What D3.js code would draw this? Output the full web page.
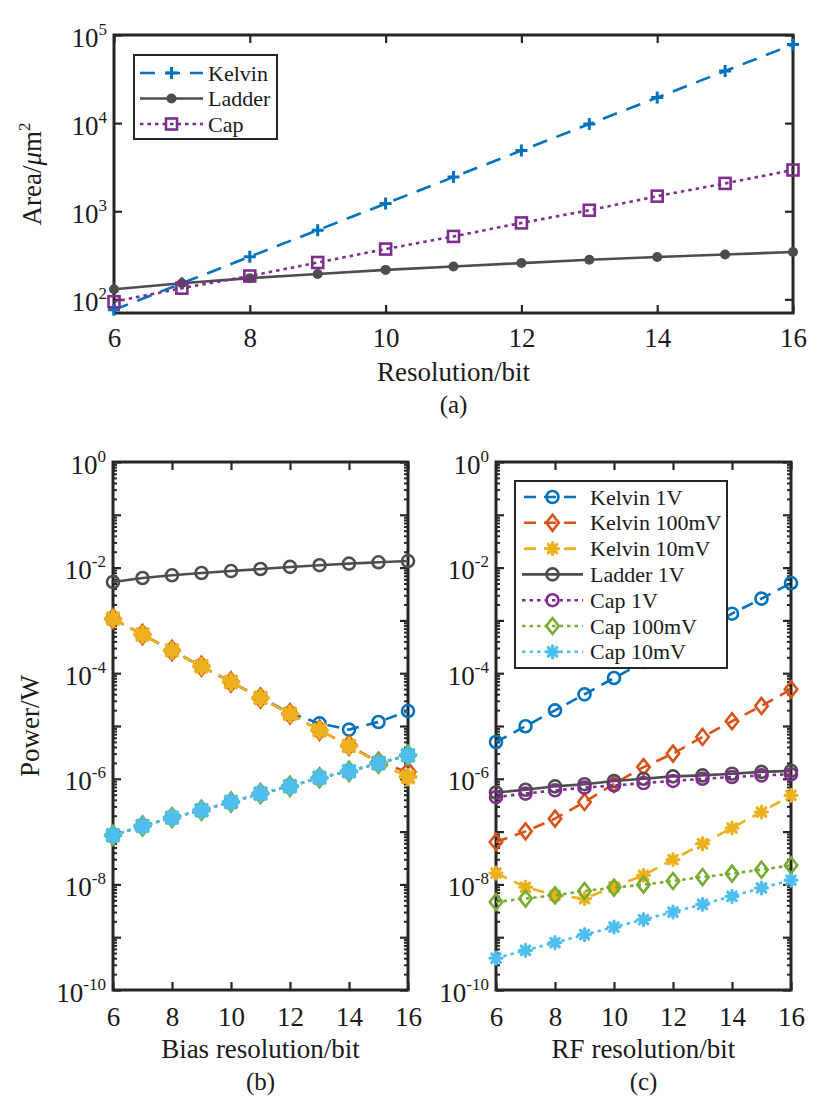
<!DOCTYPE html>
<html>
<head>
<meta charset="utf-8">
<script src="https://cdn.jsdelivr.net/npm/d3@7"></script>
<style>
  body { margin: 0; background: #fff; }
  text { font-family: "Liberation Serif", "Times New Roman", serif; fill: #1a1a1a; }
</style>
</head>
<body>
<svg id="fig" width="828" height="1111"></svg>
<script>
// ####################################################################################
// Data
const bits = [6, 7, 8, 9, 10, 11, 12, 13, 14, 15, 16];
const xTicks = [6, 8, 10, 12, 14, 16];

// (a) area in um^2
const areaKelvin = [76, 152, 305, 610, 1220, 2440, 4880, 9760, 19500, 39000, 78000];
const areaLadder = [130, 152, 174, 194, 216, 236, 258, 281, 302, 323, 344];
const areaCap    = [94, 134, 184, 262, 372, 518, 737, 1026, 1483, 2070, 2938];

// (b) power vs bias resolution
const bKelvin1V    = [1.08e-3, 5.4e-4, 2.7e-4, 1.35e-4, 6.8e-5, 3.45e-5, 1.76e-5, 1.12e-5, 8.55e-6, 1.19e-5, 1.92e-5];
const bKelvin100mV = [1.08e-3, 5.4e-4, 2.7e-4, 1.35e-4, 6.8e-5, 3.4e-5, 1.7e-5, 8.3e-6, 4.3e-6, 2.05e-6, 1.35e-6];
const bKelvin10mV  = [1.08e-3, 5.4e-4, 2.7e-4, 1.35e-4, 6.8e-5, 3.4e-5, 1.7e-5, 8.3e-6, 4.2e-6, 2.0e-6, 1.08e-6];
const bLadder1V    = [5.34e-3, 6.35e-3, 7.15e-3, 7.9e-3, 8.6e-3, 9.4e-3, 1.03e-2, 1.11e-2, 1.19e-2, 1.26e-2, 1.33e-2];
const bCap1V       = [8.5e-8, 1.28e-7, 1.84e-7, 2.53e-7, 3.64e-7, 5.25e-7, 7.2e-7, 1.05e-6, 1.39e-6, 1.97e-6, 2.79e-6];
const bCap100mV    = [8.5e-8, 1.28e-7, 1.84e-7, 2.53e-7, 3.64e-7, 5.25e-7, 7.2e-7, 1.05e-6, 1.39e-6, 1.97e-6, 2.79e-6];
const bCap10mV     = [8.5e-8, 1.28e-7, 1.84e-7, 2.53e-7, 3.64e-7, 5.25e-7, 7.2e-7, 1.05e-6, 1.39e-6, 1.97e-6, 2.79e-6];

// (c) power vs RF resolution
const cKelvin1V    = [4.98e-6, 9.9e-6, 1.98e-5, 3.98e-5, 8.1e-5, 1.63e-4, 3.2e-4, 6.5e-4, 1.34e-3, 2.58e-3, 5.1e-3];
const cKelvin100mV = [6.36e-8, 1.01e-7, 1.76e-7, 3.64e-7, 8.0e-7, 1.67e-6, 3.0e-6, 6.2e-6, 1.23e-5, 2.4e-5, 4.95e-5];
const cKelvin10mV  = [1.64e-8, 8.9e-9, 6.2e-9, 5.4e-9, 9.0e-9, 1.49e-8, 2.95e-8, 5.9e-8, 1.17e-7, 2.35e-7, 4.87e-7];
const cLadder1V    = [5.5e-7, 6.2e-7, 7.2e-7, 7.9e-7, 9.1e-7, 1.0e-6, 1.11e-6, 1.16e-6, 1.25e-6, 1.35e-6, 1.41e-6];
const cCap1V       = [4.5e-7, 5.25e-7, 6.05e-7, 6.8e-7, 7.5e-7, 8.3e-7, 9.1e-7, 1.0e-6, 1.08e-6, 1.16e-6, 1.22e-6];
const cCap100mV    = [4.65e-9, 5.4e-9, 6.2e-9, 7.5e-9, 8.7e-9, 9.9e-9, 1.16e-8, 1.38e-8, 1.6e-8, 1.9e-8, 2.3e-8];
const cCap10mV     = [4.0e-10, 5.65e-10, 7.9e-10, 1.12e-9, 1.56e-9, 2.15e-9, 3.0e-9, 4.2e-9, 5.95e-9, 8.55e-9, 1.2e-8];

const powerNames = ["Kelvin 1V", "Kelvin 100mV", "Kelvin 10mV", "Ladder 1V", "Cap 1V", "Cap 100mV", "Cap 10mV"];
const areaNames  = ["Kelvin", "Ladder", "Cap"];

// ####################################################################################
// Styles
const C = { blue: "#0072BD", orange: "#D95319", yellow: "#EDB120", gray: "#4d4d4d",
            purple: "#7E2F8E", green: "#77AC30", cyan: "#4DBEEE", axis: "#262626" };
const DASH = "12,8", DOT = "3.5,4";

const svg = d3.select("#fig");

function marker(g, type, cx, cy, s, color, sw) {
  if (type === "circle") {
    g.append("circle").attr("cx", cx).attr("cy", cy).attr("r", s)
      .attr("fill", "none").attr("stroke", color).attr("stroke-width", sw);
  } else if (type === "dot") {
    g.append("circle").attr("cx", cx).attr("cy", cy).attr("r", s).attr("fill", color);
  } else if (type === "square") {
    g.append("rect").attr("x", cx - s).attr("y", cy - s).attr("width", 2 * s).attr("height", 2 * s)
      .attr("fill", "none").attr("stroke", color).attr("stroke-width", sw);
  } else if (type === "plus") {
    g.append("path").attr("d", `M${cx - s},${cy}H${cx + s}M${cx},${cy - s}V${cy + s}`)
      .attr("stroke", color).attr("stroke-width", sw);
  } else if (type === "diamond") {
    const w = s * 0.78;
    g.append("path").attr("d", `M${cx},${cy - s}L${cx + w},${cy}L${cx},${cy + s}L${cx - w},${cy}Z`)
      .attr("fill", "none").attr("stroke", color).attr("stroke-width", sw);
  } else if (type === "star") {
    const d = s * 0.7071;
    g.append("path")
      .attr("d", `M${cx - s},${cy}H${cx + s}M${cx},${cy - s}V${cy + s}M${cx - d},${cy - d}L${cx + d},${cy + d}M${cx - d},${cy + d}L${cx + d},${cy - d}`)
      .attr("stroke", color).attr("stroke-width", sw).attr("stroke-linecap", "round");
  }
}

function supLabel(sel, d) {
  const t = d3.select(sel);
  t.text(null).attr("dy", null);
  t.append("tspan").attr("dy", 11).text("10");
  t.append("tspan").attr("dy", -12).attr("font-size", 17).text(String(Math.round(Math.log10(d))));
}

// ####################################################################################
// Panel
function drawPanel(p) {
  const g = svg.append("g");
  const x = d3.scaleLinear().domain([6, 16]).range([p.x0, p.x1]);
  const y = d3.scaleLog().domain(p.yDomain).range([p.y1, p.y0]);

  // minor ticks (log)
  if (p.minor) {
    const minorVals = [];
    for (let e = Math.round(Math.log10(p.yDomain[0])); e < Math.round(Math.log10(p.yDomain[1])); e++)
      for (let k = 2; k <= 9; k++) minorVals.push(k * Math.pow(10, e));
    [[d3.axisLeft(y), p.x0], [d3.axisRight(y), p.x1]].forEach(([ax, tx]) => {
      g.append("g").attr("transform", `translate(${tx},0)`)
        .call(ax.tickValues(minorVals).tickSize(-4).tickFormat(""))
        .call(s => s.select(".domain").remove())
        .selectAll("line").attr("stroke", C.axis).attr("stroke-width", 2);
    });
  }

  // y axis left with labels
  const yl = g.append("g").attr("transform", `translate(${p.x0},0)`)
    .call(d3.axisLeft(y).tickValues(p.yMajor).tickSizeInner(-8).tickSizeOuter(0).tickPadding(7))
    .attr("font-size", 27).attr("font-family", null);
  yl.select(".domain").remove();
  yl.selectAll("line").attr("stroke", C.axis).attr("stroke-width", 2.2);
  yl.selectAll(".tick text").filter(d => p.yLabels.includes(d)).each(function (d) { supLabel(this, d); });
  yl.selectAll(".tick text").filter(d => !p.yLabels.includes(d)).remove();

  // y axis right
  g.append("g").attr("transform", `translate(${p.x1},0)`)
    .call(d3.axisRight(y).tickValues(p.yMajor).tickSizeInner(-8).tickSizeOuter(0).tickFormat(""))
    .call(s => s.select(".domain").remove())
    .selectAll("line").attr("stroke", C.axis).attr("stroke-width", 2.2);

  // x axis bottom
  const xb = g.append("g").attr("transform", `translate(0,${p.y1})`)
    .call(d3.axisBottom(x).tickValues(xTicks).tickSizeInner(-8).tickSizeOuter(0).tickPadding(p.xPad))
    .attr("font-size", 27).attr("font-family", null);
  xb.select(".domain").remove();
  xb.selectAll("line").attr("stroke", C.axis).attr("stroke-width", 2.2);

  // x axis top
  g.append("g").attr("transform", `translate(0,${p.y0})`)
    .call(d3.axisTop(x).tickValues(xTicks).tickSizeInner(-8).tickSizeOuter(0).tickFormat(""))
    .call(s => s.select(".domain").remove())
    .selectAll("line").attr("stroke", C.axis).attr("stroke-width", 2.2);

  // box
  g.append("rect").attr("x", p.x0).attr("y", p.y0).attr("width", p.x1 - p.x0).attr("height", p.y1 - p.y0)
    .attr("fill", "none").attr("stroke", C.axis).attr("stroke-width", 3);

  // series
  const line = d3.line().x(d => x(d[0])).y(d => y(d[1]));
  p.series.forEach(s => {
    const pts = bits.map((b, i) => [b, s.values[i]]);
    g.append("path").datum(pts).attr("d", line)
      .attr("fill", "none").attr("stroke", s.color).attr("stroke-width", 2.6)
      .attr("stroke-dasharray", s.dash);
    const mg = g.append("g");
    pts.forEach(d => marker(mg, s.marker, x(d[0]), y(d[1]), s.size, s.color, s.sw));
  });

  // legend
  if (p.legend) {
    const L = p.legend;
    g.append("rect").attr("x", L.x).attr("y", L.y).attr("width", L.w).attr("height", L.h)
      .attr("fill", "#fff").attr("stroke", C.axis).attr("stroke-width", 2);
    p.series.forEach((s, i) => {
      const cy = L.y + L.first + i * L.step;
      g.append("line").attr("x1", L.lx0).attr("x2", L.lx1).attr("y1", cy).attr("y2", cy)
        .attr("stroke", s.color).attr("stroke-width", 2.6).attr("stroke-dasharray", s.dash)
        .attr("stroke-dashoffset", s.dash === DASH ? -2 : 0);
      marker(g, s.marker, (L.lx0 + L.lx1) / 2, cy, s.legendSize || s.size, s.color, s.sw);
      g.append("text").attr("x", L.tx).attr("y", cy + 7.5).attr("font-size", 22).text(s.name);
    });
  }

  // labels
  g.append("text").attr("x", (p.x0 + p.x1) / 2).attr("y", p.y1 + 68).attr("text-anchor", "middle")
    .attr("font-size", 27).text(p.xLabel);
  g.append("text").attr("x", (p.x0 + p.x1) / 2).attr("y", p.y1 + 100).attr("text-anchor", "middle")
    .attr("font-size", 25).text(p.tag);
  return { g, x, y };
}

// ####################################################################################
// (a)
const pa = drawPanel({
  x0: 114, x1: 793, y0: 35, y1: 313, yDomain: [70, 1e5], minor: false, xPad: 15,
  yMajor: [1e2, 1e3, 1e4, 1e5], yLabels: [1e2, 1e3, 1e4, 1e5],
  xLabel: "Resolution/bit", tag: "(a)",
  series: [
    { name: areaNames[0], values: areaKelvin, color: C.blue, dash: "15,10", marker: "plus", size: 6, sw: 3 },
    { name: areaNames[1], values: areaLadder, color: C.gray, dash: null, marker: "dot", size: 5, sw: 0 },
    { name: areaNames[2], values: areaCap, color: C.purple, dash: DOT, marker: "square", size: 5.5, sw: 2.6 }
  ],
  legend: { x: 134, y: 55, w: 143, h: 84, first: 18, step: 25.5, lx0: 140, lx1: 203, tx: 208 }
});
const aLab = pa.g.append("text").attr("transform", "translate(41,174) rotate(-90)")
  .attr("text-anchor", "middle").attr("font-size", 27);
aLab.append("tspan").text("Area/");
aLab.append("tspan").attr("font-style", "italic").text("μ");
aLab.append("tspan").text("m");
aLab.append("tspan").attr("dy", -11).attr("font-size", 17).text("2");

// (b) and (c)
const powerMajor = [1e-10, 1e-9, 1e-8, 1e-7, 1e-6, 1e-5, 1e-4, 1e-3, 1e-2, 1e-1, 1];
const powerLabels = [1e-10, 1e-8, 1e-6, 1e-4, 1e-2, 1];

function powerSeries(vals, big) {
  const k = big ? 1.2 : 1;
  return [
    { name: powerNames[0], values: vals[0], color: C.blue, dash: DASH, marker: "circle", size: 6, sw: 2.6 },
    { name: powerNames[1], values: vals[1], color: C.orange, dash: DASH, marker: "diamond", size: 8 * k, sw: 2.6, legendSize: 8 },
    { name: powerNames[2], values: vals[2], color: C.yellow, dash: DASH, marker: "star", size: 6 * k, sw: big ? 4.5 : 3.2, legendSize: 6 },
    { name: powerNames[3], values: vals[3], color: C.gray, dash: null, marker: "circle", size: 6, sw: 2.6 },
    { name: powerNames[4], values: vals[4], color: C.purple, dash: DOT, marker: "circle", size: 6, sw: 2.6 },
    { name: powerNames[5], values: vals[5], color: C.green, dash: DOT, marker: "diamond", size: 8 * k, sw: 2.6, legendSize: 8 },
    { name: powerNames[6], values: vals[6], color: C.cyan, dash: DOT, marker: "star", size: 6 * k, sw: big ? 4.5 : 3.2, legendSize: 6 }
  ];
}

const pb = drawPanel({
  x0: 113, x1: 408, y0: 462, y1: 990, yDomain: [1e-10, 1], minor: true, xPad: 17,
  yMajor: powerMajor, yLabels: powerLabels,
  xLabel: "Bias resolution/bit", tag: "(b)",
  series: powerSeries([bKelvin1V, bKelvin100mV, bKelvin10mV, bLadder1V, bCap1V, bCap100mV, bCap10mV], true)
});
pb.g.append("text").attr("transform", "translate(39,726) rotate(-90)")
  .attr("text-anchor", "middle").attr("font-size", 27).text("Power/W");

const pc = drawPanel({
  x0: 496, x1: 791, y0: 462, y1: 990, yDomain: [1e-10, 1], minor: true, xPad: 17,
  yMajor: powerMajor, yLabels: powerLabels,
  xLabel: "RF resolution/bit", tag: "(c)",
  series: powerSeries([cKelvin1V, cKelvin100mV, cKelvin10mV, cLadder1V, cCap1V, cCap100mV, cCap10mV], false),
  legend: { x: 515, y: 481, w: 212, h: 187, first: 16, step: 25.8, lx0: 522, lx1: 583, tx: 590 }
});
</script>
</body>
</html>
